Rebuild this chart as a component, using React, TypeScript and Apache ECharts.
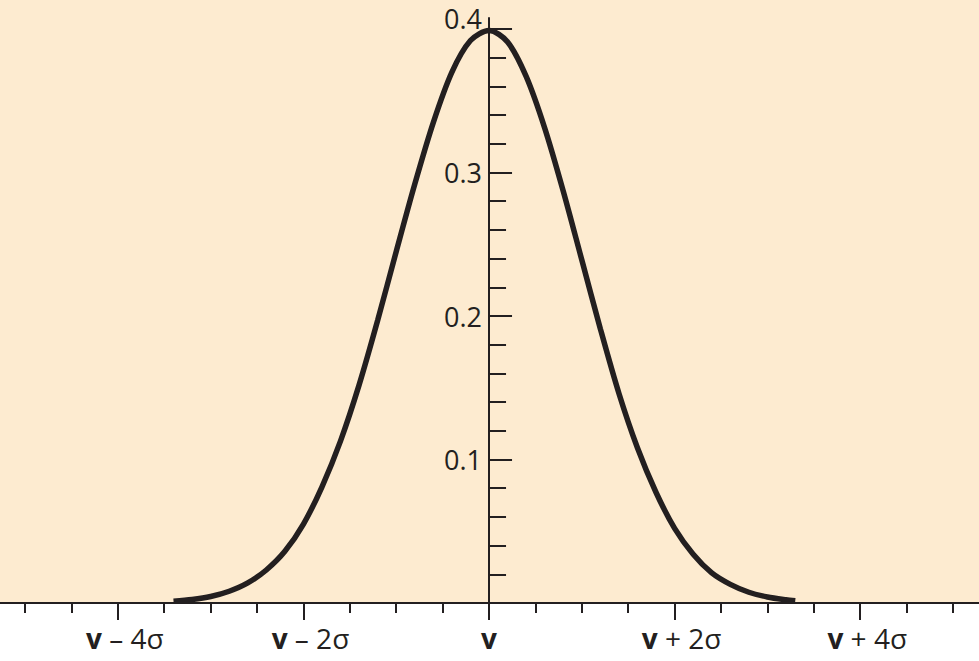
import React, { useEffect, useRef } from "react";
import * as echarts from "echarts";

// Curve: position in units of sigma, and density
const sigmaPositions = [-3.4, -3.2, -3.0, -2.8, -2.6, -2.4, -2.2, -2.0, -1.8, -1.6, -1.4, -1.2, -1.0, -0.8, -0.6, -0.4, -0.2, 0, 0.2, 0.4, 0.6, 0.8, 1.0, 1.2, 1.4, 1.6, 1.8, 2.0, 2.2, 2.4, 2.6, 2.8, 3.0, 3.2, 3.3];
const density = [0.0012, 0.0024, 0.0045, 0.0082, 0.014, 0.023, 0.036, 0.055, 0.081, 0.113, 0.152, 0.197, 0.245, 0.292, 0.335, 0.37, 0.392, 0.399, 0.391, 0.367, 0.331, 0.287, 0.239, 0.191, 0.146, 0.108, 0.077, 0.052, 0.034, 0.021, 0.013, 0.0075, 0.0042, 0.0022, 0.0015];

const xMajorTicks = [-4, -2, 0, 2, 4];
const xTickLabels = ["v – 4σ", "v – 2σ", "v", "v + 2σ", "v + 4σ"];
const xMinorTicks = [-5, -4.5, -4, -3.5, -3, -2.5, -2, -1.5, -1, -0.5, 0, 0.5, 1, 1.5, 2, 2.5, 3, 3.5, 4, 4.5, 5];
const yMajorTicks = [0.1, 0.2, 0.3, 0.4];
const yTickLabels = ["0.1", "0.2", "0.3", "0.4"];
const yMinorTicks = [0.02, 0.04, 0.06, 0.08, 0.12, 0.14, 0.16, 0.18, 0.22, 0.24, 0.26, 0.28, 0.32, 0.34, 0.36, 0.38];

const INK = "#231f20";
const FONT = "'Open Sans', 'Noto Sans', sans-serif";

const WIDTH = 979;
const HEIGHT = 661;

export default function App() {
  const ref = useRef<HTMLDivElement>(null);
  useEffect(() => {
    if (!ref.current) return;
    const chart = echarts.init(ref.current, undefined, { renderer: "svg" });
    const xMin = -5.27;
    const xMax = 5.28;
    const yMin = 0;
    const yMax = 0.4077;
    // place the y axis where x = 0 (the mean)
    const yAxisOffset = -((0 - xMin) / (xMax - xMin)) * WIDTH;
    chart.setOption({
      animation: false,
      backgroundColor: "#ffffff",
      graphic: [
        {
          type: "rect",
          silent: true,
          z: -10,
          shape: { x: 0, y: 0, width: WIDTH, height: 603 },
          style: { fill: "#fdebd0" },
        },
      ],
      grid: { left: 0, right: 0, top: 18, bottom: 58, containLabel: false, outerBoundsMode: "none" },
      xAxis: [
        {
          type: "value",
          min: xMin,
          max: xMax,
          position: "bottom",
          axisLine: { show: true, onZero: false, lineStyle: { color: INK, width: 2 } },
          splitLine: { show: false },
          axisTick: {
            show: true,
            customValues: xMajorTicks,
            length: 17,
            lineStyle: { color: INK, width: 2 },
          },
          axisLabel: {
            show: true,
            customValues: xMajorTicks,
            margin: 21,
            color: INK,
            fontFamily: FONT,
            fontSize: 28,
            formatter: (val: number) => {
              const i = xMajorTicks.findIndex((t) => Math.abs(t - val) < 1e-6);
              if (i < 0) return "";
              const s = xTickLabels[i];
              if (s === "v") return "{c|v}";
              return "{v|v}{t|" + s.slice(1) + "}";
            },
            rich: {
              c: { fontFamily: FONT, fontSize: 28, fontWeight: "bold", color: INK },
              v: { fontFamily: FONT, fontSize: 28, fontWeight: "bold", color: INK, padding: [0, 0, 0, 14] },
              t: { fontFamily: FONT, fontSize: 28, color: INK },
            },
          },
        },
        {
          type: "value",
          min: xMin,
          max: xMax,
          position: "bottom",
          axisLine: { show: false, onZero: false },
          splitLine: { show: false },
          axisLabel: { show: false },
          axisTick: {
            show: true,
            customValues: xMinorTicks,
            length: 10,
            lineStyle: { color: INK, width: 2 },
          },
        },
      ],
      yAxis: [
        {
          type: "value",
          min: yMin,
          max: yMax,
          position: "left",
          offset: yAxisOffset,
          axisLine: { show: true, onZero: false, lineStyle: { color: INK, width: 2 } },
          splitLine: { show: false },
          axisTick: {
            show: true,
            inside: true,
            customValues: yMajorTicks,
            length: 23,
            lineStyle: { color: INK, width: 2 },
          },
          axisLabel: {
            show: true,
            customValues: yMajorTicks,
            margin: 7,
            color: INK,
            fontFamily: FONT,
            fontSize: 27,
            formatter: (val: number) => {
              const i = yMajorTicks.findIndex((t) => Math.abs(t - val) < 1e-6);
              if (i < 0) return "";
              if (i === yMajorTicks.length - 1) return "{up|" + yTickLabels[i] + "}";
              return yTickLabels[i];
            },
            rich: {
              up: { fontFamily: FONT, fontSize: 27, color: INK, padding: [0, 0, 22, 0] },
            },
          },
        },
        {
          type: "value",
          min: yMin,
          max: yMax,
          position: "left",
          offset: yAxisOffset,
          axisLine: { show: false, onZero: false },
          splitLine: { show: false },
          axisLabel: { show: false },
          axisTick: {
            show: true,
            inside: true,
            customValues: yMinorTicks,
            length: 17,
            lineStyle: { color: INK, width: 2 },
          },
        },
      ],
      series: [
        {
          type: "line",
          xAxisIndex: 0,
          yAxisIndex: 0,
          data: sigmaPositions.map((x, i) => [x, density[i]]),
          smooth: 0.3,
          showSymbol: false,
          symbol: "none",
          lineStyle: { color: INK, width: 5.5, cap: "butt" },
          z: 5,
        },
      ],
    });
    return () => chart.dispose();
  }, []);
  return (
    <div
      ref={ref}
      style={{ position: "fixed", left: 0, top: 0, width: WIDTH, height: HEIGHT }}
    />
  );
}
